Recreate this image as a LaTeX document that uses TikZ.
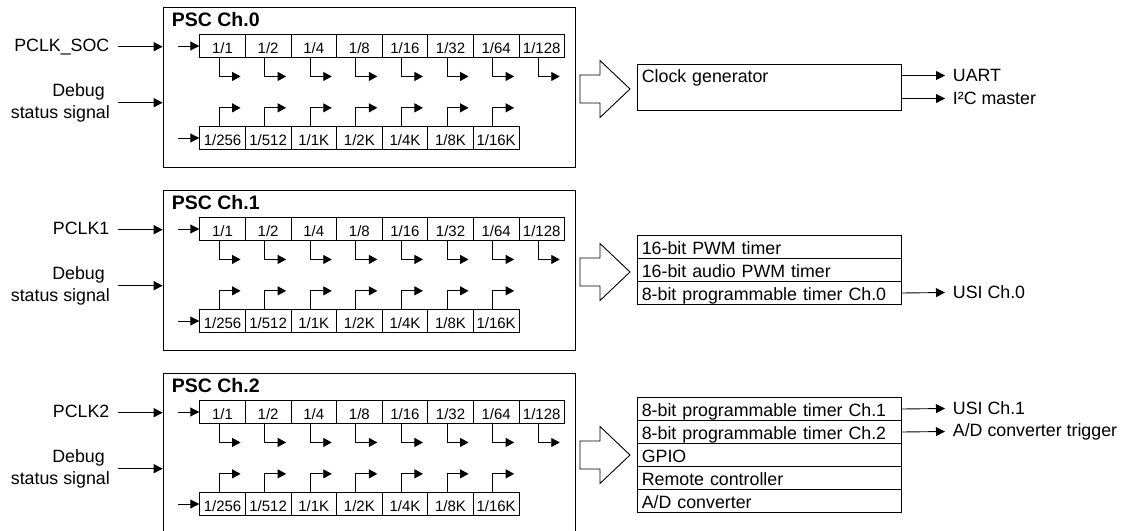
\documentclass[tikz,border=0pt]{standalone}
\usepackage{fontspec}
\setmainfont{Liberation Sans}
\usetikzlibrary{arrows.meta}
\begin{document}
\begin{tikzpicture}[x=1pt,y=-1pt,
  lbl/.style={font=\fontsize{17.8}{21.6}\selectfont, inner sep=0pt},
  ttl/.style={font=\fontsize{19.5}{22}\selectfont\bfseries, inner sep=0pt, anchor=base west},
  pscbox/.style={draw, line width=1pt, minimum width=412.3pt, minimum height=160pt, inner sep=0pt, anchor=north west},
  cell/.style={draw, line width=0.9pt, minimum width=45.6pt, minimum height=22.6pt, inner sep=0pt,
    text height=15pt, text depth=0pt, font=\fontsize{15}{18}\selectfont, anchor=west},
  unit/.style={draw, line width=1pt, anchor=north west, text width=255.4pt, inner xsep=4pt, inner ysep=0pt,
    align=left, minimum height=23pt, text height=18.7pt, text depth=4.3pt, font=\fontsize{17.8}{21.6}\selectfont},
  arr/.style={line width=0.9pt, -{Triangle[length=9pt,width=9pt]}},
  tap/.style={line width=0.9pt, -{Triangle[length=8.5pt,width=9pt]}},
  hollow/.style={draw, line width=0.9pt, fill=white, line join=miter}
]
\clip (0,0) rectangle (1132,530);

% three prescaler channels, each 183 units below the previous one
\foreach \ch/\clk in {0/PCLK\_SOC, 1/PCLK1, 2/PCLK2} {
  \begin{scope}[shift={(0,183*\ch)}]
    \node[pscbox] (psc\ch) at (162.7,7) {};
    \node[ttl] (ttl\ch) at (171.7,26.7) {PSC Ch.\ch};

    % clock and debug inputs
    \node[lbl, anchor=base east] (clk\ch) at (109.5,51.7) {\clk};
    \coordinate (ci\ch) at (118.3,46.7);
    \draw[arr] (ci\ch) -- (ci\ch -| psc\ch.west);
    \node[lbl, anchor=east, align=right] (dbg\ch) at (110,102.8) {Debug\hspace*{5pt}\\status signal};
    \coordinate (di\ch) at (118.3,102.7);
    \draw[arr] (di\ch) -- (di\ch -| psc\ch.west);

    % divider taps, upper row
    \foreach \lab [count=\i] in {1/1,1/2,1/4,1/8,1/16,1/32,1/64,1/128} {
      \node[cell] (t\ch-\i) at (199.3+45.6*\i-45.6,46) {\lab};
      \draw[tap] ([xshift=-3.5pt]t\ch-\i.south) |- ++(21.5,18.7);
    }
    % divider taps, lower row
    \foreach \lab [count=\i] in {1/256,1/512,1/1K,1/2K,1/4K,1/8K,1/16K} {
      \node[cell] (b\ch-\i) at (199.3+45.6*\i-45.6,138) {\lab};
      \draw[tap] ([xshift=-3.5pt]b\ch-\i.north) |- ++(21.5,-18.4);
    }
    \coordinate (ti\ch) at (177.7,46);
    \draw[arr] (ti\ch) -- (t\ch-1.west);
    \coordinate (bi\ch) at (177.7,138);
    \draw[arr] (bi\ch) -- (b\ch-1.west);

    % wide hollow arrow towards the clocked peripherals
    \draw[hollow] (580,75) -- (600,75) -- (600,60.5) -- (630,89) -- (600,117.5)
      -- (600,103) -- (580,103) -- cycle;
  \end{scope}
}

% channel 0 consumers
\node[unit, minimum height=46pt, text height=17.7pt, text depth=28.3pt] (cg) at (637.3,64) {Clock generator};
\node[lbl, anchor=west] (uart) at (952.7,75.5) {UART};
\node[lbl, anchor=west] (iic) at (952.7,98.5) {I²C master};
\draw[arr] (cg.east |- uart.west) -- ([xshift=-7.7pt]uart.west);
\draw[arr] (cg.east |- iic.west) -- ([xshift=-7.7pt]iic.west);

% channel 1 consumers
\node[unit] (r1-1) at (637.3,235) {16-bit PWM timer};
\node[unit] (r1-2) at (637.3,258) {16-bit audio PWM timer};
\node[unit] (r1-3) at (637.3,281) {8-bit programmable timer Ch.0};
\node[lbl, anchor=west] (usi0) at (952.7,292.5) {USI Ch.0};
\draw[arr] (r1-3.east) -- ([xshift=-7.7pt]usi0.west);

% channel 2 consumers
\node[unit] (r2-1) at (637.3,397) {8-bit programmable timer Ch.1};
\node[unit] (r2-2) at (637.3,420) {8-bit programmable timer Ch.2};
\node[unit] (r2-3) at (637.3,443) {GPIO};
\node[unit] (r2-4) at (637.3,466) {Remote controller};
\node[unit] (r2-5) at (637.3,489) {A/D converter};
\node[lbl, anchor=west] (usi1) at (952.7,408.5) {USI Ch.1};
\node[lbl, anchor=west] (adt) at (952.7,431.5) {A/D converter trigger};
\draw[arr] (r2-1.east) -- ([xshift=-7.7pt]usi1.west);
\draw[arr] (r2-2.east) -- ([xshift=-7.7pt]adt.west);
\end{tikzpicture}
\end{document}
